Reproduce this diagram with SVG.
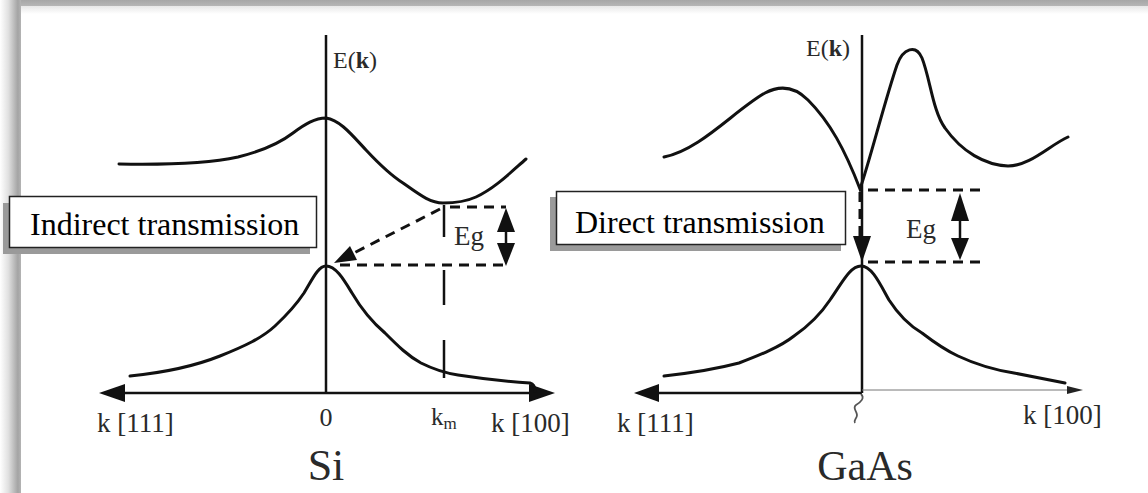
<svg xmlns="http://www.w3.org/2000/svg" width="1148" height="493" viewBox="0 0 1148 493">
<defs>
<linearGradient id="gl" x1="0" y1="0" x2="1" y2="0">
<stop offset="0" stop-color="#ffffff"/>
<stop offset="0.4" stop-color="#e0e0e0"/>
<stop offset="0.85" stop-color="#a4a4a4"/>
<stop offset="1" stop-color="#b4b4b4"/>
</linearGradient>
<linearGradient id="gt" x1="0" y1="0" x2="0" y2="1">
<stop offset="0" stop-color="#a6a6a6"/>
<stop offset="0.4" stop-color="#b4b4b4"/>
<stop offset="0.45" stop-color="#e8e8e8"/>
<stop offset="1" stop-color="#ffffff"/>
</linearGradient>
<style>
.ln{fill:none;stroke:#111;stroke-width:3;stroke-linecap:round}
.ax{fill:none;stroke:#111;stroke-width:2.5}
.ds{fill:none;stroke:#111;stroke-width:3;stroke-dasharray:10 7}
.ah{fill:#111;stroke:none}
.lb{font-family:"Liberation Serif","Times New Roman",serif;fill:#2a2a2a}
.bx{fill:#fff;stroke:#222;stroke-width:1.5}
.sh{fill:#9a9a9a}
.bt{font-family:"Liberation Serif","Times New Roman",serif;font-size:32px;fill:#000}
</style>
</defs>
<rect x="0" y="0" width="1148" height="493" fill="#fff"/>
<rect x="0" y="0" width="1148" height="14" fill="url(#gt)"/>
<rect x="0" y="0" width="21" height="493" fill="url(#gl)"/>

<g id="si-axes">
<line class="ax" x1="326" y1="35" x2="326" y2="393"/>
<line class="ax" x1="118" y1="393" x2="535" y2="393"/>
<polygon class="ah" points="99,393 125,384 125,402"/>
<polygon class="ah" points="555,393 529,384 529,402"/>
<text class="lb" x="333" y="68" font-size="24">E(<tspan font-weight="bold">k</tspan>)</text>
</g>
<g id="si-conduction">
<path class="ln" d="M119,164 C170,165 210,163 238,157 C262,151 280,143 293,133 C305,124 315,118 326,118 C340,120 352,135 366,150 C380,165 392,176 403,183 C420,195 430,203 443,203 C456,203 465,202 476,197 C495,188 510,173 526,159"/>
</g>
<g id="si-valence">
<path class="ln" d="M130,376 C170,372 195,366 220,356 C245,346 262,338 275,326 C290,312 298,302 304,293 C312,280 318,266 326,266 C336,266 344,280 352,293 C362,310 372,322 385,333 C398,346 408,356 421,363 C435,370 445,373 458,375 C490,380 515,382 530,383 C534,384 535,388 535,391"/>
</g>
<g id="si-labels">
<text class="lb" x="97" y="432" font-size="27">k [111]</text>
<text class="lb" x="326" y="426" font-size="26" text-anchor="middle">0</text>
<text class="lb" x="431" y="425" font-size="25">k<tspan font-size="17" dy="4">m</tspan></text>
<text class="lb" x="491" y="432" font-size="27">k [100]</text>
<text class="lb" x="326" y="480" font-size="44" text-anchor="middle">Si</text>
<text class="lb" x="454" y="245" font-size="27">Eg</text>
</g>

<g id="gaas-axes">
<line class="ax" x1="862" y1="35" x2="862" y2="393"/>
<line class="ax" x1="650" y1="393" x2="862" y2="393"/>
<polygon class="ah" points="634,393 659,384 659,402"/>
<line x1="862" y1="390" x2="1070" y2="390" stroke="#777" stroke-width="1"/>
<polygon points="1083,390 1067,386 1067,394" fill="#222"/>
<path d="M861,394 C865,398 861,402 856,405 C852,408 857,411 857,415 C857,419 853,420 855,423" fill="none" stroke="#555" stroke-width="1.8"/>
<text class="lb" x="806" y="56" font-size="24">E(<tspan font-weight="bold">k</tspan>)</text>
</g>
<g id="gaas-conduction">
<path class="ln" d="M664,157 C700,150 735,110 765,93 C780,85 795,87 808,100 C830,122 845,150 860,189 C870,160 885,100 897,65 C903,48 916,44 922,58 C930,78 933,112 945,128 C962,152 985,165 1008,166 C1030,166 1050,145 1068,137"/>
</g>
<g id="gaas-valence">
<path class="ln" d="M664,376 C700,372 720,368 739,363 C760,355 780,347 794,336 C810,325 822,312 830,300 C842,283 850,266 861,266 C872,266 880,284 889,300 C900,317 910,326 922,333 C935,343 945,350 958,356 C975,364 995,370 1014,373 C1035,377 1050,380 1065,383"/>
</g>
<g id="gaas-labels">
<text class="lb" x="617" y="432" font-size="27">k [111]</text>
<text class="lb" x="1023" y="424" font-size="27">k [100]</text>
<text class="lb" x="865" y="480" font-size="42" text-anchor="middle">GaAs</text>
<text class="lb" x="906" y="238" font-size="27">Eg</text>
</g>

<g id="connectors">
<line class="ax" x1="444" y1="205" x2="444" y2="237"/>
<line class="ax" x1="444" y1="270" x2="444" y2="305"/>
<line class="ax" x1="444" y1="340" x2="444" y2="378"/>
<line class="ds" x1="450" y1="207" x2="506" y2="207"/>
<line class="ds" x1="340" y1="265" x2="506" y2="265"/>
<line class="ds" x1="440" y1="209" x2="352" y2="254"/>
<polygon class="ah" points="334,263 357,260 350,246"/>
<line class="ax" x1="506" y1="228" x2="506" y2="248"/>
<polygon class="ah" points="506,208 497,232 515,232"/>
<polygon class="ah" points="506,266 497,243 515,243"/>

<line class="ds" x1="860" y1="192" x2="860" y2="240"/>
<polygon class="ah" points="862,262 853,236 871,236"/>
<line class="ds" x1="868" y1="190" x2="984" y2="190"/>
<line class="ds" x1="868" y1="262" x2="982" y2="262"/>
<line class="ax" x1="960" y1="215" x2="960" y2="245"/>
<polygon class="ah" points="960,193 951,221 969,221"/>
<polygon class="ah" points="960,260 951,238 969,238"/>
</g>

<g id="box-indirect">
<rect class="sh" x="3" y="203" width="307" height="51"/>
<rect class="bx" x="9.5" y="196.5" width="307" height="51"/>
<text class="bt" x="30" y="235">Indirect transmission</text>
</g>
<g id="box-direct">
<rect class="sh" x="550" y="197" width="291" height="54"/>
<rect class="bx" x="556.5" y="191.5" width="289" height="53"/>
<text class="bt" x="575" y="233">Direct transmission</text>
</g>
</svg>
